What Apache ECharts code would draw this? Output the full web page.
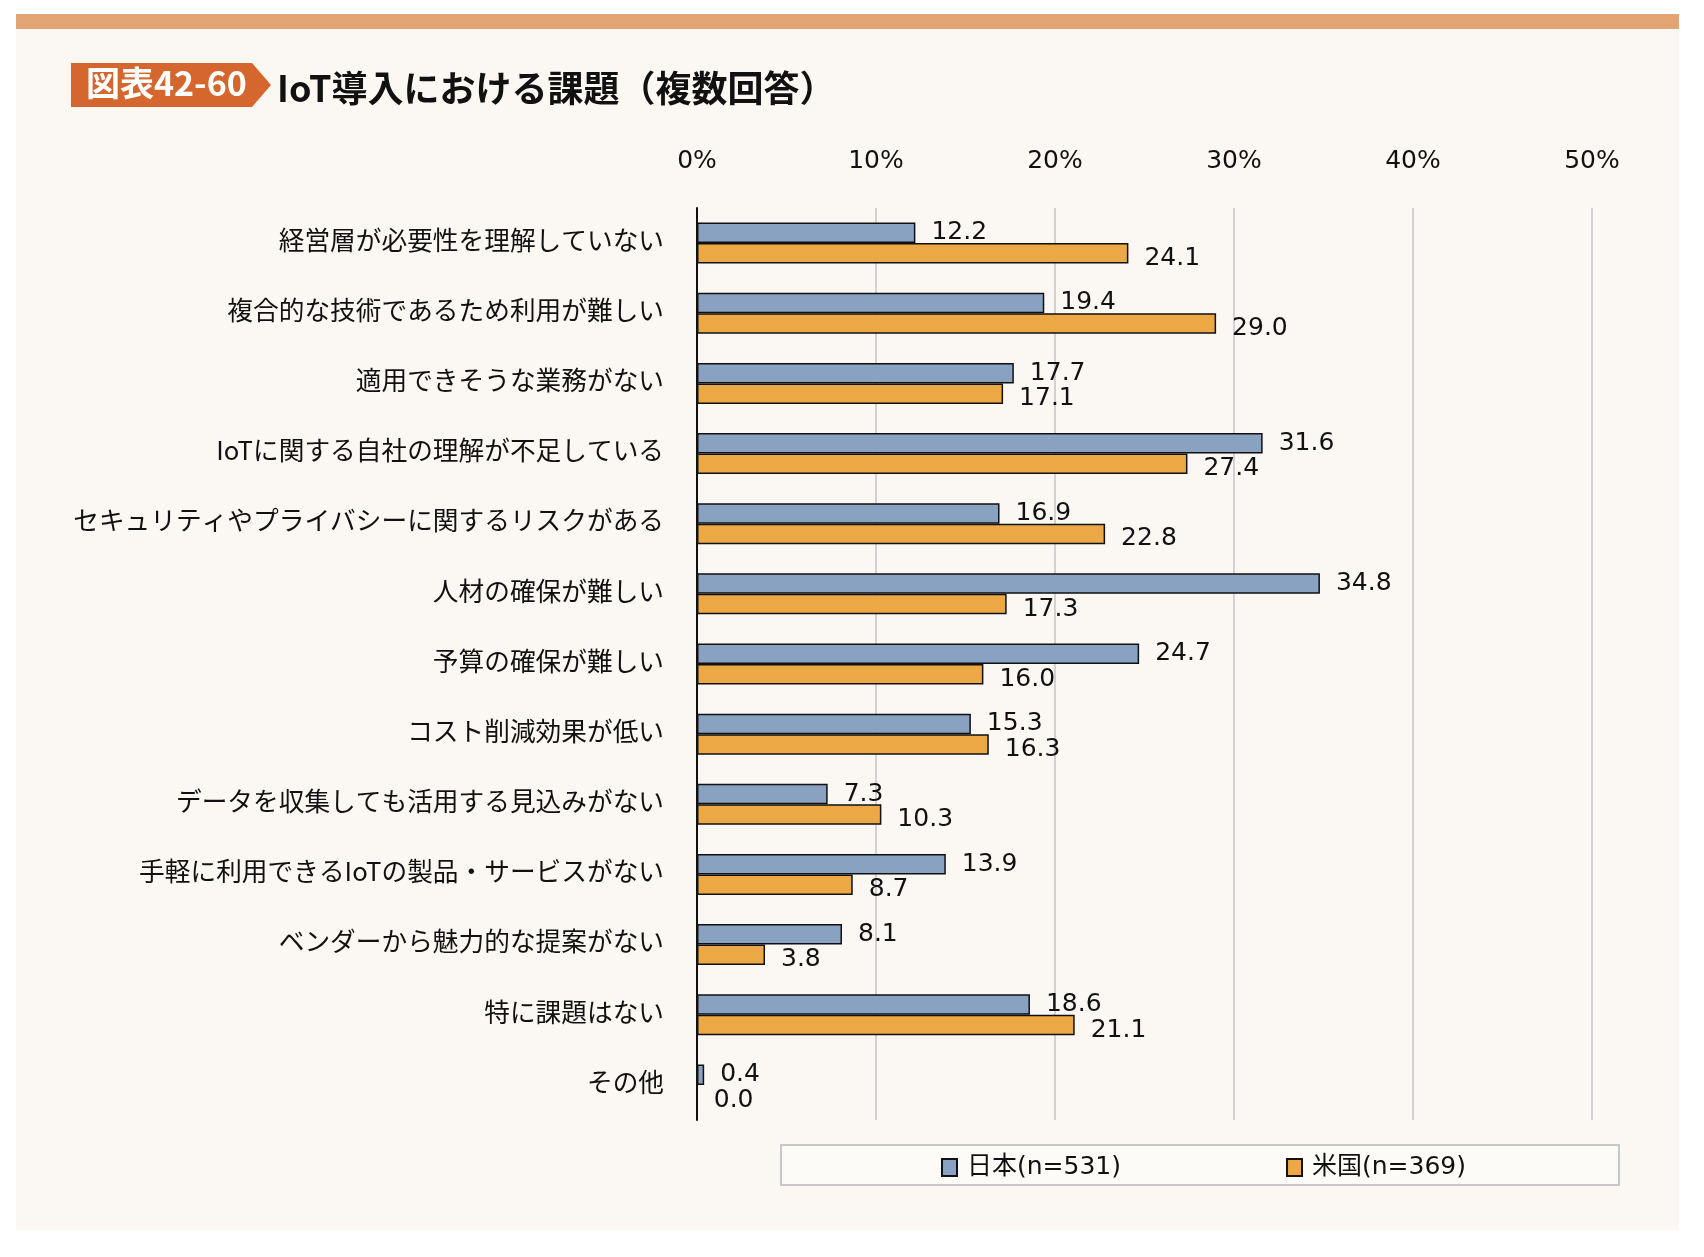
<!DOCTYPE html>
<html><head><meta charset="utf-8">
<script src="https://cdn.jsdelivr.net/npm/echarts@6/dist/echarts.min.js"></script>
<style>html,body{margin:0;padding:0;background:#fff}#c{width:1704px;height:1257px}</style>
</head><body><div id="c"></div>
<script>
const categories = [
  '経営層が必要性を理解していない',
  '複合的な技術であるため利用が難しい',
  '適用できそうな業務がない',
  'IoTに関する自社の理解が不足している',
  'セキュリティやプライバシーに関するリスクがある',
  '人材の確保が難しい',
  '予算の確保が難しい',
  'コスト削減効果が低い',
  'データを収集しても活用する見込みがない',
  '手軽に利用できるIoTの製品・サービスがない',
  'ベンダーから魅力的な提案がない',
  '特に課題はない',
  'その他'
];
const japan = [12.2, 19.4, 17.7, 31.6, 16.9, 34.8, 24.7, 15.3, 7.3, 13.9, 8.1, 18.6, 0.4];
const usa = [24.1, 29.0, 17.1, 27.4, 22.8, 17.3, 16.0, 16.3, 10.3, 8.7, 3.8, 21.1, 0.0];
const seriesNames = ['日本(n=531)', '米国(n=369)'];
const badgeText = '図表42-60';
const titleText = 'IoT導入における課題（複数回答）';

const latin = '"DejaVu Sans", "Noto Sans CJK JP", sans-serif';
const cjk = '"Noto Sans CJK JP", sans-serif';
const chart = echarts.init(document.getElementById('c'), null, {renderer: 'canvas'});
chart.setOption({
  backgroundColor: '#ffffff',
  animation: false,
  graphic: [
    {type: 'rect', shape: {x: 16, y: 14, width: 1663, height: 1216}, style: {fill: '#fbf8f3'}, z: -10},
    {type: 'rect', shape: {x: 16, y: 14, width: 1663, height: 15}, style: {fill: '#e2a473'}, z: -9},
    {type: 'polygon', shape: {points: [[71, 63], [252, 63], [271, 85], [252, 107], [71, 107]]}, style: {fill: '#d4662e'}, z: -8},
    {type: 'text', left: 86, top: 66, style: {text: badgeText, fill: '#ffffff', font: 'bold 34px "Noto Sans CJK JP", sans-serif'}, z: -7},
    {type: 'text', left: 277, top: 70, style: {text: titleText, fill: '#111111', font: 'bold 36px "Noto Sans CJK JP", sans-serif'}, z: -7},
    {type: 'rect', shape: {x: 781, y: 1145, width: 838, height: 40}, style: {fill: '#fcfbf8', stroke: '#c8c8c8', lineWidth: 2}, z: -6}
  ],
  grid: {left: 697, right: 112, top: 208, bottom: 137, containLabel: false},
  xAxis: {
    type: 'value', position: 'top', min: 0, max: 50, interval: 10,
    axisLine: {show: false}, axisTick: {show: false},
    splitLine: {show: true, lineStyle: {color: '#d2d2d2', width: 2}},
    axisLabel: {formatter: '{value}%', color: '#111', fontSize: 25, fontFamily: latin, margin: 34}
  },
  yAxis: {
    type: 'category', data: categories, inverse: true,
    axisLine: {show: true, lineStyle: {color: '#111', width: 2}},
    axisTick: {show: false},
    axisLabel: {
      margin: 33,
      formatter: v => '{a|' + v + '}',
      rich: {a: {color: '#111', fontSize: 25.7, fontFamily: cjk, padding: [0, 0, 6, 0]}}
    }
  },
  legend: {
    data: seriesNames, left: 941, top: 1155, padding: 0, itemWidth: 15, itemHeight: 17, itemGap: 165,
    textStyle: {color: '#111', fontSize: 25, fontFamily: latin, padding: [0, 0, 0, 5]},
    icon: 'rect'
  },
  series: [
    {
      name: seriesNames[0], type: 'bar', data: japan, barWidth: 20.5, barGap: '0%',
      itemStyle: {color: '#8aa2c2', borderColor: '#111', borderWidth: 1.5},
      label: {show: true, position: 'right', distance: 16, offset: [0, 0], color: '#111', fontSize: 25, fontFamily: latin, formatter: p => p.value.toFixed(1)}
    },
    {
      name: seriesNames[1], type: 'bar', data: usa, barWidth: 20.5, barGap: '0%',
      itemStyle: {color: '#eba844', borderColor: '#111', borderWidth: 1.5},
      label: {show: true, position: 'right', distance: 16, offset: [0, 5], color: '#111', fontSize: 25, fontFamily: latin, formatter: p => p.value.toFixed(1)}
    }
  ]
});
</script></body></html>
